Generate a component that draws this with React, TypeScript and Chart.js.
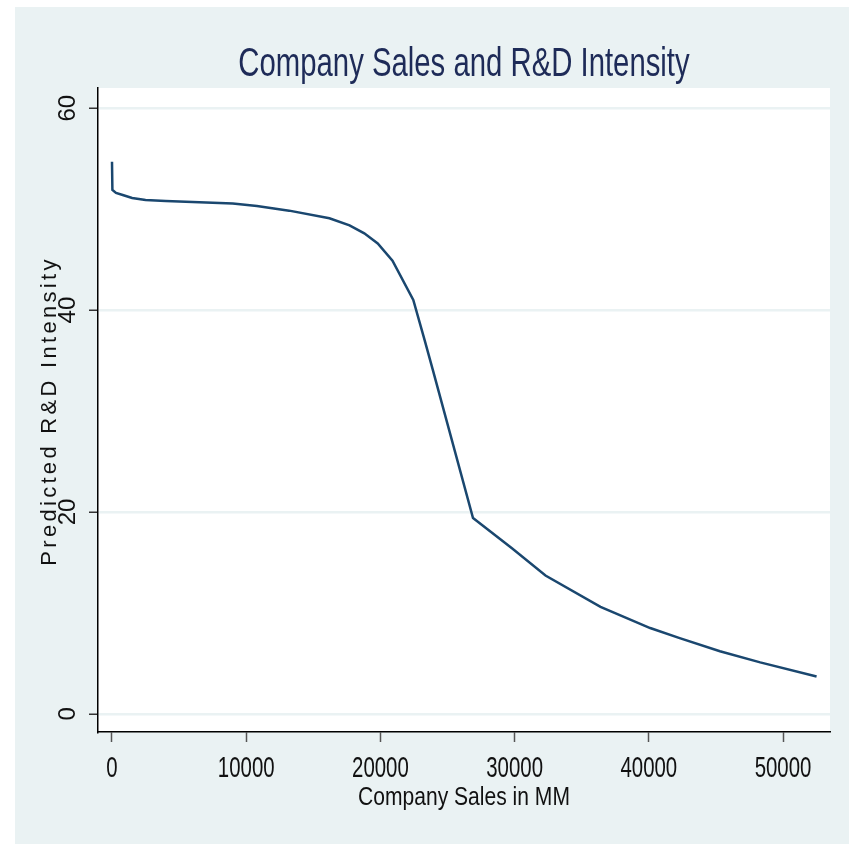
import React, { useEffect, useRef } from "react";
import { Chart, registerables } from "chart.js";

Chart.register(...registerables);

const chartTitle = "Company Sales and R&D Intensity";
const xTitle = "Company Sales in MM";
const yTitle = "Predicted R&D Intensity";

const salesMM = [0, 30, 300, 800, 1500, 2500, 4000, 6000, 9000, 10800, 13200, 16200, 17700, 18800, 19800, 20900, 22450, 23300, 23900, 26900, 29800, 32300, 36400, 40100, 42300, 45300, 48300, 52500];
const predictedRD = [54.7, 51.9, 51.6, 51.4, 51.1, 50.9, 50.8, 50.7, 50.55, 50.3, 49.85, 49.1, 48.4, 47.6, 46.6, 44.9, 41.0, 37.0, 34.1, 19.4, 16.4, 13.7, 10.6, 8.5, 7.5, 6.2, 5.1, 3.7];

const xTicks = [0, 10000, 20000, 30000, 40000, 50000];
const yTicks = [0, 20, 40, 60];

const FONT = '"Liberation Sans", Arial, Helvetica, sans-serif';
const OUTER_BG = "#EAF2F3";
const NAVY = "#1e2b58";
const LINE = "#1a476f";

const decorPlugin = {
  id: "decor",
  beforeDraw(chart: any) {
    const ctx = chart.ctx;
    const { left, top, right, bottom } = chart.chartArea;
    ctx.save();
    ctx.fillStyle = "#ffffff";
    ctx.fillRect(0, 0, chart.width, chart.height);
    ctx.fillStyle = OUTER_BG;
    ctx.fillRect(15, 7, chart.width - 15, chart.height - 7);
    ctx.fillStyle = "#ffffff";
    ctx.fillRect(left, top, right - left, bottom - top);
    ctx.restore();
  },
  afterDraw(chart: any) {
    const ctx = chart.ctx;
    const xs = chart.scales.x;
    const ys = chart.scales.y;
    const { left, right, top, bottom } = chart.chartArea;
    const cx = (left + right) / 2;
    const cy = (top + bottom) / 2;

    const condensed = (text: string, x: number, y: number, size: number, sx: number, color: string) => {
      ctx.save();
      ctx.translate(x, y);
      ctx.scale(sx, 1);
      ctx.font = `${size}px ${FONT}`;
      ctx.fillStyle = color;
      ctx.textAlign = "center";
      ctx.textBaseline = "alphabetic";
      ctx.fillText(text, 0, 0);
      ctx.restore();
    };

    condensed(chartTitle, cx, 76, 41, 0.715, NAVY);
    xTicks.forEach((v) => {
      condensed(String(v), xs.getPixelForValue(v), 777, 30, 0.68, "#111111");
    });
    condensed(xTitle, cx, 805, 26, 0.81, "#111111");

    yTicks.forEach((v) => {
      ctx.save();
      ctx.translate(75, ys.getPixelForValue(v));
      ctx.rotate(-Math.PI / 2);
      ctx.font = `24px ${FONT}`;
      ctx.fillStyle = "#111111";
      ctx.textAlign = "center";
      ctx.textBaseline = "alphabetic";
      ctx.fillText(String(v), 0, 0);
      ctx.restore();
    });

    ctx.save();
    ctx.translate(56, cy + 1);
    ctx.rotate(-Math.PI / 2);
    ctx.font = `22px ${FONT}`;
    (ctx as any).letterSpacing = "3.3px";
    ctx.fillStyle = "#111111";
    ctx.textAlign = "center";
    ctx.textBaseline = "alphabetic";
    ctx.fillText(yTitle, 0, 0);
    ctx.restore();
  },
};

export default function App() {
  const ref = useRef<HTMLCanvasElement | null>(null);

  useEffect(() => {
    if (!ref.current) return;
    const chart = new Chart(ref.current, {
      type: "scatter",
      data: {
        datasets: [
          {
            data: salesMM.map((x, i) => ({ x, y: predictedRD[i] })),
            showLine: true,
            borderColor: LINE,
            borderWidth: 2.5,
            pointRadius: 0,
            tension: 0,
            fill: false,
          },
        ],
      },
      options: {
        responsive: false,
        animation: false,
        devicePixelRatio: 1,
        layout: { padding: { left: 89, top: 88, right: 19, bottom: 102 } },
        plugins: {
          legend: { display: false },
          tooltip: { enabled: false },
          title: { display: false },
        },
        scales: {
          x: {
            type: "linear",
            min: -1043,
            max: 53500,
            afterBuildTicks: (scale: any) => {
              scale.ticks = xTicks.map((v) => ({ value: v }));
            },
            ticks: { display: false },
            grid: {
              color: "rgba(0,0,0,0)",
              drawTicks: true,
              tickLength: 10,
              tickColor: "#555555",
              tickWidth: 1.5,
            },
            border: { display: true, color: "#000000", width: 1.5 },
          },
          y: {
            type: "linear",
            min: -1.8,
            max: 62,
            afterBuildTicks: (scale: any) => {
              scale.ticks = yTicks.map((v) => ({ value: v }));
            },
            ticks: { display: false },
            grid: {
              color: OUTER_BG,
              lineWidth: 2.5,
              drawTicks: true,
              tickLength: 9,
              tickColor: "#333333",
              tickWidth: 1.5,
            },
            border: { display: true, color: "#000000", width: 1.5 },
          },
        },
      },
      plugins: [decorPlugin],
    });
    return () => chart.destroy();
  }, []);

  return (
    <div style={{ position: "fixed", left: 0, top: 0, width: 849, height: 844 }}>
      <canvas ref={ref} width={849} height={844} style={{ display: "block" }} />
    </div>
  );
}
